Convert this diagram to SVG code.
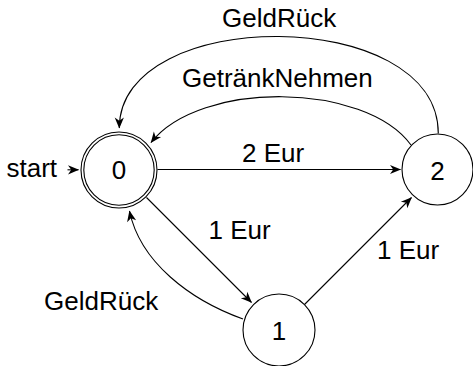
<svg xmlns="http://www.w3.org/2000/svg" width="473" height="366" viewBox="0 0 473 366">
<style>
.node{fill:none;stroke:#000;stroke-width:1.1}
.edge{fill:none;stroke:#000;stroke-width:1.1;marker-end:url(#arr)}
text{font-family:"Liberation Sans",Arial,sans-serif;font-size:26px;fill:#000}
.c{text-anchor:middle}
</style>
<defs>
<marker id="arr" viewBox="-12 -6 13 12" markerUnits="userSpaceOnUse" markerWidth="13" markerHeight="12" refX="0" refY="0" orient="auto">
<path d="M0.5,0 L-10.5,-4.6 L-7.3,0 L-10.5,4.6 Z" fill="#000"/>
</marker>
</defs>
<rect width="473" height="366" fill="#fff"/>
<g id="connectors">
<path class="edge" d="M67.5,169.8 L78.5,169.8"/>
<path class="edge" d="M157.5,169.5 L400.5,169.5"/>
<path class="edge" d="M146.5,197.5 L251.5,302.5"/>
<path class="edge" d="M304.5,304.5 L411.5,197.5"/>
<path class="edge" d="M243,319 C190,300 140,262 129.5,211"/>
<path class="edge" d="M411,145 C365,82 200,80 151,142.5"/>
<path class="edge" d="M438.3,133.5 C438.3,5 119.3,5 119.3,128"/>
<text x="242" y="162.3">2 Eur</text>
<text x="208.5" y="239.3">1 Eur</text>
<text x="377" y="259.3">1 Eur</text>
<text x="44" y="310">GeldRück</text>
<text x="182" y="86.7">GetränkNehmen</text>
<text x="222" y="26.7">GeldRück</text>
<text x="6.5" y="177.3">start</text>
</g>
<g id="node0">
<circle class="node" cx="119" cy="170" r="38"/>
<circle class="node" cx="119" cy="170" r="35.2"/>
<text class="c" x="119" y="179.3">0</text>
</g>
<g id="node1">
<circle class="node" cx="279" cy="330" r="36"/>
<text class="c" x="279" y="340">1</text>
</g>
<g id="node2">
<circle class="node" cx="437.5" cy="169.5" r="35.5"/>
<text class="c" x="437.5" y="180">2</text>
</g>
</svg>
